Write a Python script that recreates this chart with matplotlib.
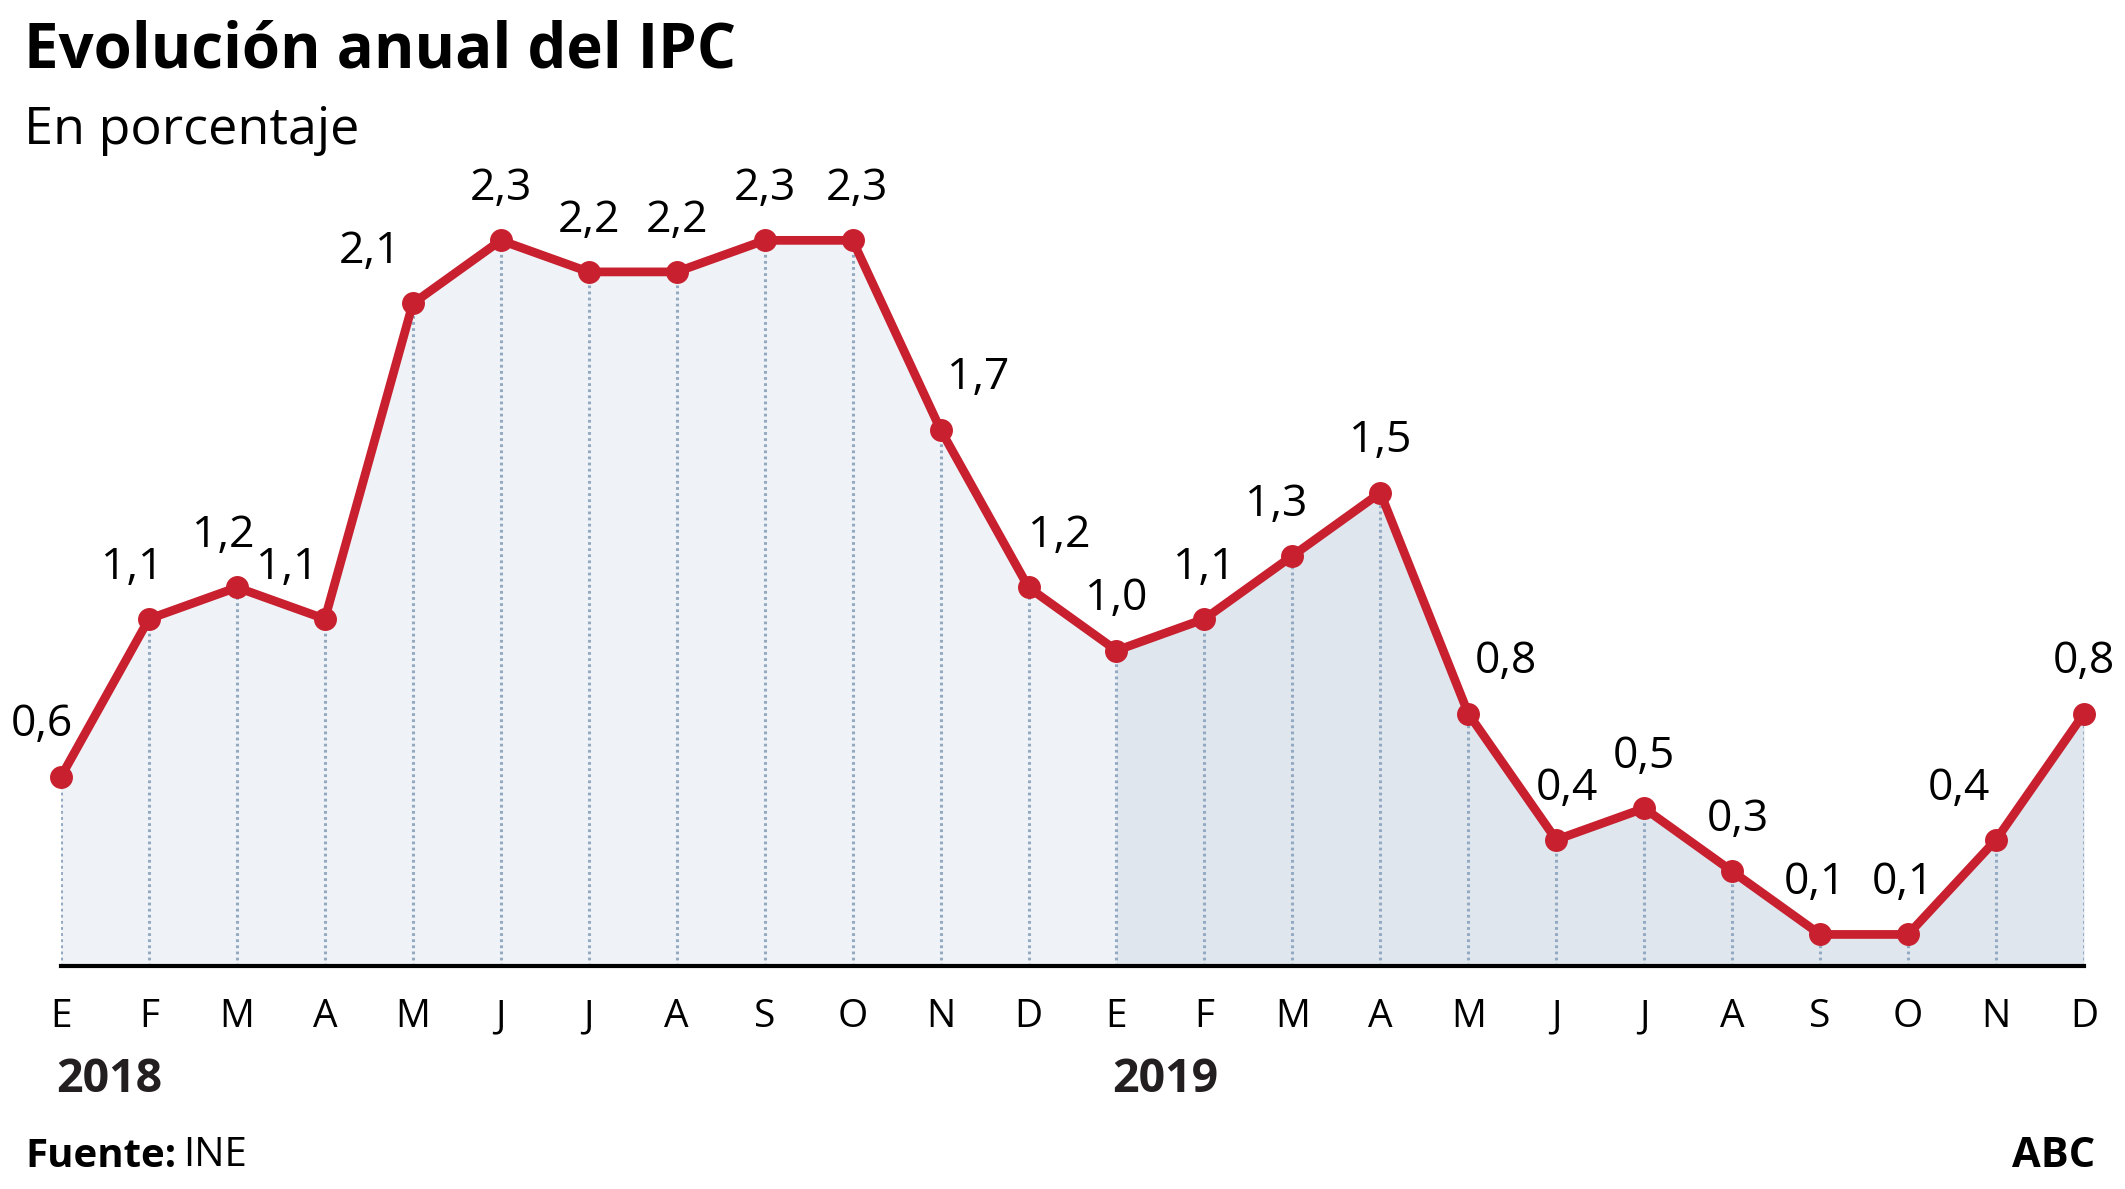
"""
ipc_evolucion.py

Evolución anual del IPC (2018-2019), line chart with filled area.
"""

import matplotlib.pyplot as plt
from matplotlib.transforms import blended_transform_factory

# Data
months = ["E", "F", "M", "A", "M", "J", "J", "A", "S", "O", "N", "D",
          "E", "F", "M", "A", "M", "J", "J", "A", "S", "O", "N", "D"]
years = ["2018", "2019"]
ipc = [0.6, 1.1, 1.2, 1.1, 2.1, 2.3, 2.2, 2.2, 2.3, 2.3, 1.7, 1.2,
       1.0, 1.1, 1.3, 1.5, 0.8, 0.4, 0.5, 0.3, 0.1, 0.1, 0.4, 0.8]

# horizontal nudge of each value label, in points
label_nudge = [-14, -12, -10, -27, -31, 0, 0, 0, 0, 3, 27, 22,
               0, 0, -12, 0, 27, 8, 0, 4, -4, -4, -27, 0]

RED = "#c8202f"
FILL_2018 = "#eff3f7"
FILL_2019 = "#dfe6ee"
DOTS = "#93a9c1"
FONT = "Open Sans"


def main():
    W, H = 2125, 1189
    fig = plt.figure(figsize=(W / 100, H / 100), dpi=100)
    ymax = 2.6
    ax = fig.add_axes([61 / W, 223 / H, 2023 / W, ymax * 315.5 / H])

    x = list(range(len(ipc)))
    ax.set_xlim(0, len(ipc) - 1)
    ax.set_ylim(0, ymax)

    # shaded areas, one per year
    ax.fill_between(x[:13], ipc[:13], color=FILL_2018, lw=0, zorder=1)
    ax.fill_between(x[12:], ipc[12:], color=FILL_2019, lw=0, zorder=1)

    # dotted drop lines
    ax.vlines(x, 0, ipc, colors=DOTS, linestyles=(0, (0.9, 1.1)), lw=2.2,
              zorder=2)

    ax.plot(x, ipc, color=RED, lw=6.3, marker="o", ms=15.5,
            solid_capstyle="round", clip_on=False, zorder=4)

    for xi, v, dx in zip(x, ipc, label_nudge):
        ax.annotate(f"{v:.1f}".replace(".", ","), (xi, v),
                    xytext=(dx, 29), textcoords="offset points",
                    ha="center", va="baseline", fontsize=32,
                    family=FONT, annotation_clip=False)

    # axes styling
    for side in ["top", "left", "right"]:
        ax.spines[side].set_visible(False)
    ax.spines["bottom"].set_linewidth(3)
    ax.spines["bottom"].set_zorder(5)
    ax.set_xticks([])
    ax.set_yticks([])

    trans = blended_transform_factory(ax.transData, fig.transFigure)
    for xi, m in zip(x, months):
        ax.text(xi, 1 - 1027 / H, m, transform=trans, ha="center",
                va="baseline", fontsize=28, family=FONT)
    for i, yr in enumerate(years):
        ax.text(i * 12 - 0.05, 1 - 1092 / H, yr, transform=trans, ha="left",
                va="baseline", fontsize=33.5, fontweight="bold",
                family=FONT, color="#231f20")

    # titles
    fig.text(24 / W, 1 - 68 / H, "Evolución anual del IPC", fontsize=44.5,
             fontweight="bold", family=FONT, va="baseline")
    fig.text(24 / W, 1 - 144 / H, "En porcentaje", fontsize=37.5,
             family=FONT, va="baseline")

    # footer
    src = fig.text(25 / W, 1 - 1167 / H, "Fuente:", fontsize=29,
                   fontweight="bold", family=FONT, va="baseline")
    ax.annotate("INE", xy=(1, 0), xycoords=src, xytext=(5, 0),
                textcoords="offset points", fontsize=29, family=FONT,
                ha="left", va="bottom")
    fig.text(2095 / W, 1 - 1167 / H, "ABC", fontsize=30, fontweight="bold",
             family=FONT, va="baseline", ha="right")

    fig.savefig("out.png", dpi=100)


if __name__ == "__main__":
    main()
